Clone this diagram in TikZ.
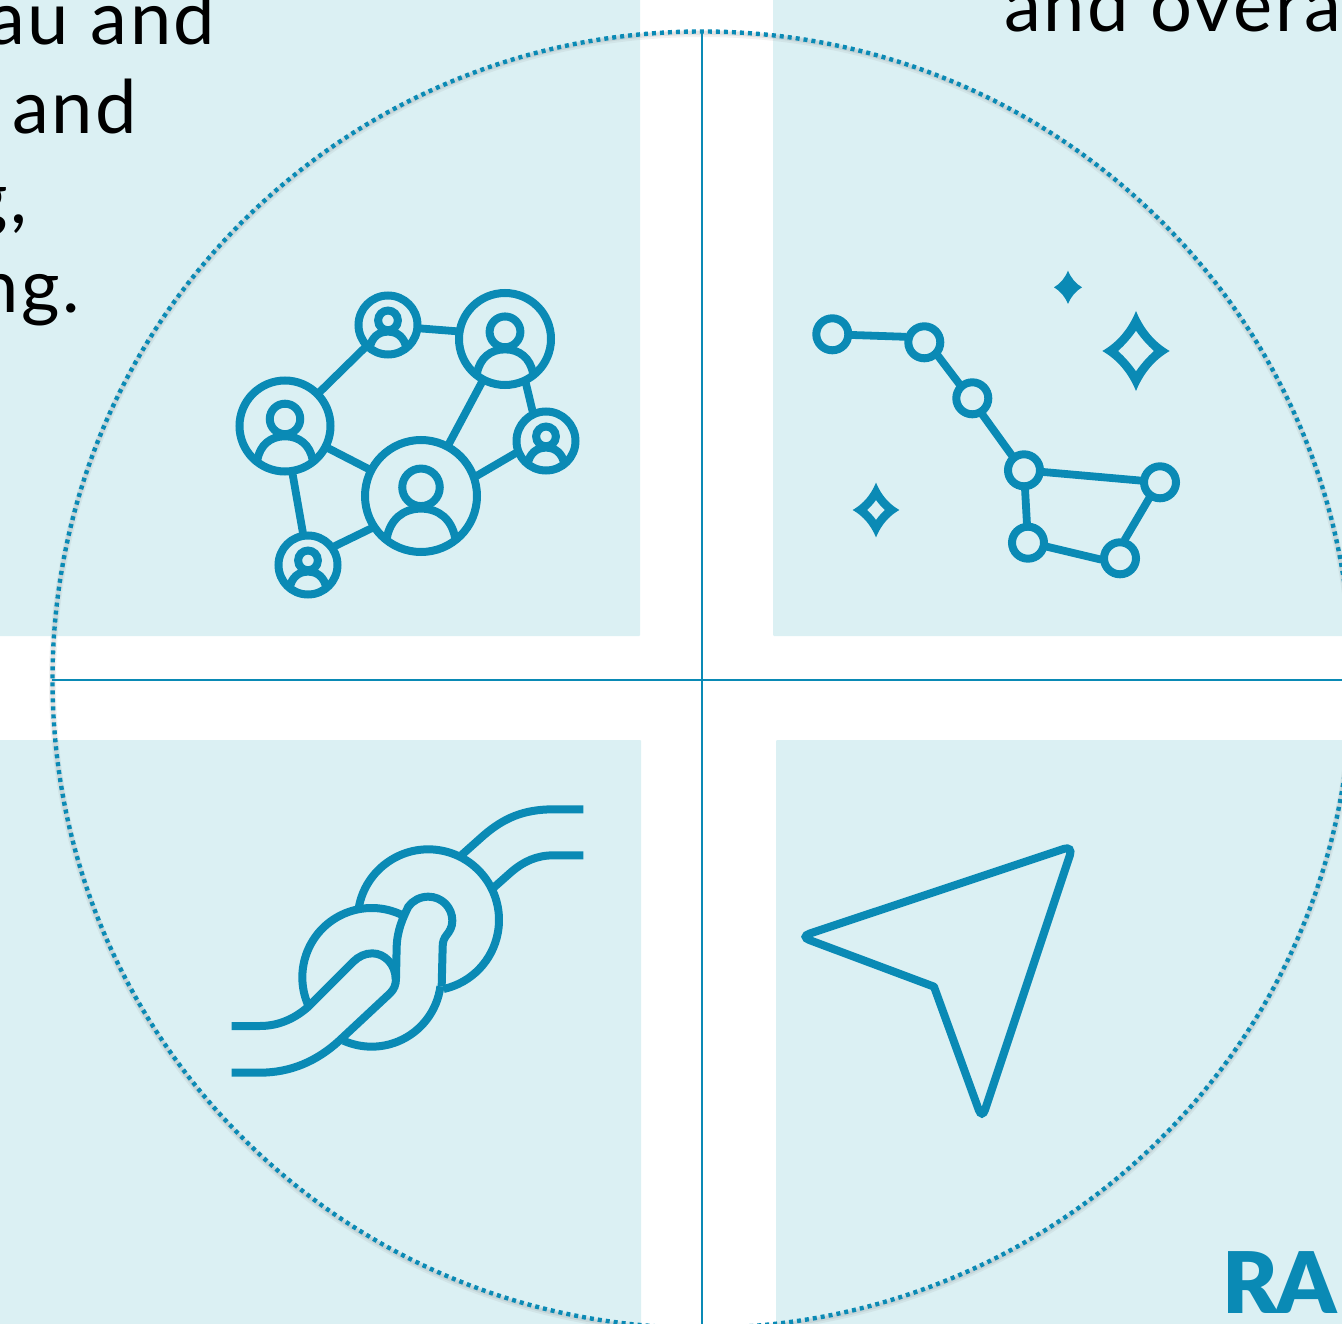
\documentclass[tikz,border=0pt]{standalone}
\usepackage{fontspec}
\newfontfamily\bodyfont[LetterSpace=3.5]{Lato}
\newfontfamily\markfont[LetterSpace=-1.5]{Lato Black}
\definecolor{teal}{HTML}{0A8AB5}
\definecolor{panel}{HTML}{DBF0F3}
\tikzset{
  panelbox/.style={fill=panel,rounded corners=1pt},
  icon/.style={draw=teal,line width=8pt},
  netnode/.style={circle,draw=teal,line width=8pt,inner sep=0pt},
  link/.style={draw=teal,line width=7.8pt,shorten <=-1.5pt,shorten >=-1.5pt},
  starnode/.style={circle,draw=teal,line width=8pt,inner sep=0pt,minimum size=32pt},
  starlink/.style={draw=teal,line width=7.8pt,shorten <=-1.5pt,shorten >=-1.5pt},
  bodytext/.style={inner sep=0pt,text=black,font=\bodyfont\fontsize{74}{84}\selectfont},
  axis/.style={draw=teal,line width=1.7pt}
}
\newcommand\person[4]{%
  \node[netnode,minimum size=2*#4pt] (#1) at (#2,#3) {};
  \begin{scope}[shift={(#2,#3)},scale=#4]
    \draw[icon] (0,-0.155) circle[radius=0.335];
    \draw[icon] (-0.61,0.75) .. controls (-0.55,0.42) and (-0.32,0.225) .. (0,0.225)
       .. controls (0.32,0.225) and (0.55,0.42) .. (0.61,0.75);
  \end{scope}}
\def\stargeo#1#2#3#4#5#6{(#1,#2-#4) .. controls (#1+#5*#3,#2-#6*#4) and (#1+#6*#3,#2-#5*#4) .. (#1+#3,#2)
  .. controls (#1+#6*#3,#2+#5*#4) and (#1+#5*#3,#2+#6*#4) .. (#1,#2+#4)
  .. controls (#1-#5*#3,#2+#6*#4) and (#1-#6*#3,#2+#5*#4) .. (#1-#3,#2)
  .. controls (#1-#6*#3,#2-#5*#4) and (#1-#5*#3,#2-#6*#4) .. (#1,#2-#4) -- cycle}
\begin{document}
\begin{tikzpicture}[x=1pt,y=1pt,yscale=-1]
\useasboundingbox (0,0) rectangle (1342,1324);
\clip (0,0) rectangle (1342,1324);
\fill[white] (0,0) rectangle (1342,1324);
% panels
\fill[panelbox] (-5,-5) rectangle (640,636);
\fill[panelbox] (773,-5) rectangle (1347,636);
\fill[panelbox] (-5,740) rectangle (641,1329);
\fill[panelbox] (776,740) rectangle (1347,1329);
% text
\node[bodytext,anchor=base east] (t1) at (215.5,45) {au and};
\node[bodytext,anchor=base east] (t2) at (137,134) {and};
\node[bodytext,anchor=base east] (t3) at (28,223.5) {g\kern3pt,};
\node[bodytext,anchor=base east] (t4) at (80,312.5) {ng.};
\node[bodytext,anchor=base west] (t5) at (1004,32) {and overa};
% circle
\draw[gray,opacity=.10,line width=7pt] (702,682) ellipse[x radius=649.5,y radius=648.5];
\draw[gray,opacity=.14,line width=4pt] (702,681.5) ellipse[x radius=649.5,y radius=648.5];
\draw[teal,line width=4.4pt,dash pattern=on 4pt off 4pt] (702,679.7) ellipse[x radius=649.5,y radius=648.2];
% axes
\coordinate (atop) at (702,32);
\coordinate (abot) at (702,1324);
\coordinate (alef) at (52,680);
\coordinate (arig) at (1342,680);
\draw[axis] (atop) -- (abot);
\draw[axis] (alef) -- (arig);
% network icon
\person{na}{285}{426}{45.5}
\person{nc}{421}{496}{56}
\person{nb}{505}{339}{46}
\person{ns}{388}{325}{29.5}
\person{nr}{546}{441}{29.5}
\person{nq}{308}{565}{29.5}
\draw[link] (na) -- (ns);
\draw[link] (ns.-6) -- (nb.171);
\draw[link] (nb) -- (nc);
\draw[link] (nb.-65.6) -- (nr.114);
\draw[link] (nc.20.7) -- (nr.202.8);
\draw[link] (na) -- (nc);
\draw[link] (na.-81) -- (nq.99.4);
\draw[link] (nq.35.8) -- (nc.213.9);
% constellation
\node[starnode] (s1) at (832.3,334.3) {};
\node[starnode] (s2) at (924.3,342.3) {};
\node[starnode] (s3) at (972.3,398.3) {};
\node[starnode] (s4) at (1024,470.3) {};
\node[starnode] (s5) at (1160,482.3) {};
\node[starnode] (s6) at (1028,542.7) {};
\node[starnode] (s7) at (1120,558.3) {};
\draw[starlink] (s1.-2) -- (s2.164);
\draw[starlink] (s2.-45.7) -- (s3.132);
\draw[starlink] (s3.-58) -- (s4.129);
\draw[starlink] (s4) -- (s5);
\draw[starlink] (s4) -- (s6);
\draw[starlink] (s6.-12) -- (s7.183);
\draw[starlink] (s7.75) -- (s5.236);
\begin{scope}[shift={(800,260)},scale=1/3]
  \fill[teal,even odd rule] \stargeo{1008}{273}{101}{120}{.22}{.55} \stargeo{1008}{273}{54}{61}{.3}{.62};
  \fill[teal,even odd rule] \stargeo{228}{750}{70}{82}{.22}{.55} \stargeo{228}{750}{27}{30}{.3}{.62};
  \fill[teal] \stargeo{804}{82}{42}{50}{.22}{.55};
\end{scope}
% knot icon
\begin{scope}[shift={(220,790)},scale=1/3]
  \draw[icon] (1090,58) -- (1000,58) .. controls (910,58) and (850,85) .. (790,137) -- (725,195);
  \draw[icon] (1090,196) -- (1000,196) .. controls (950,196) and (910,215) .. (875,245) -- (822,292);
  \draw[icon] (625,390) ++(190:212) arc[start angle=190,end angle=437.5,radius=212];
  \draw[icon] (455,562) ++(157:208) arc[start angle=157,end angle=296,radius=208];
  \draw[icon] (455,562) ++(7.5:208) arc[start angle=7.5,end angle=114,radius=208];
  \draw[icon] (35,848) -- (120,848) .. controls (210,848) and (290,815) .. (360,750) -- (510,610)
     .. controls (522,598) and (528,585) .. (528,565) -- (530,470)
     .. controls (532,420) and (548,385) .. (565,350)
     .. controls (578,332) and (600,320) .. (625,320)
     .. controls (665,320) and (697,352) .. (697,392)
     .. controls (697,412) and (688,425) .. (680,435)
     .. controls (672,445) and (668,455) .. (668,470) -- (665,590);
  \draw[icon] (35,708) -- (120,708) .. controls (170,708) and (220,690) .. (265,650) -- (400,515)
     .. controls (415,500) and (435,490) .. (457,490)
     .. controls (495,490) and (527,525) .. (527,567);
\end{scope}
% arrow icon
\begin{scope}[shift={(790,830)},scale=1/3]
  \draw[icon,line cap=round,rounded corners=9.5pt] (432,470) -- (576,866.6) -- (849,47.5) -- (31,320) -- (432,470);
\end{scope}
% mark
\node[inner sep=0pt,anchor=base west,text=teal,font=\markfont\fontsize{85}{90}\selectfont] (ra) at (1222,1313) {RA};
\end{tikzpicture}
\end{document}
